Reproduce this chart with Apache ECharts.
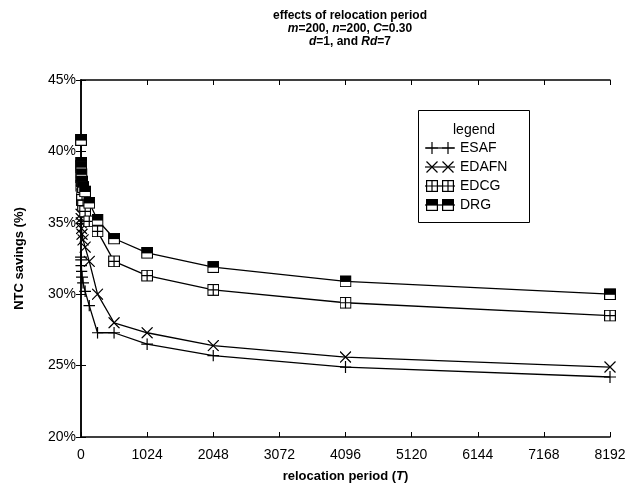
<!DOCTYPE html>
<html>
<head>
<meta charset="utf-8">
<script src="https://cdn.jsdelivr.net/npm/echarts@6/dist/echarts.min.js"></script>
<style>html,body{margin:0;padding:0;background:#fff}#c{width:629px;height:488px}</style>
</head>
<body>
<div id="c"></div>
<script>
const periods = [1, 2, 4, 8, 16, 32, 64, 128, 256, 512, 1024, 2048, 4096, 8192];
const esaf  = [32.6, 32.4, 32.0, 31.6, 31.2, 30.8, 30.2, 29.2, 27.3, 27.3, 26.5, 25.7, 24.9, 24.2];
const edafn = [35.6, 35.3, 35.0, 34.6, 34.2, 33.8, 33.3, 32.3, 30.0, 28.0, 27.3, 26.4, 25.6, 24.9];
const edcg  = [39.0, 38.2, 37.6, 37.0, 36.6, 36.2, 35.8, 35.1, 34.4, 32.3, 31.3, 30.3, 29.4, 28.5];
const drg   = [40.8, 39.2, 38.9, 38.4, 37.9, 37.5, 37.2, 36.4, 35.2, 33.9, 32.9, 31.9, 30.9, 30.0];
const seriesNames = ['ESAF', 'EDAFN', 'EDCG', 'DRG'];
const xTicks = [0, 1024, 2048, 3072, 4096, 5120, 6144, 7168, 8192];
const yTicks = [20, 25, 30, 35, 40, 45];

function svgUri(w, h, body) {
  return 'image://data:image/svg+xml;charset=utf-8,' + encodeURIComponent(
    '<svg xmlns="http://www.w3.org/2000/svg" width="' + w + '" height="' + h + '" viewBox="0 0 ' + w + ' ' + h + '">' + body + '</svg>');
}
function markBody(kind, ox) {
  const s = 'stroke="#000" stroke-width="1.2" fill="none"';
  if (kind === 0) return '<path d="M' + (ox) + ' 6H' + (ox + 12) + 'M' + (ox + 6) + ' 0V12" ' + s + '/>';
  if (kind === 1) return '<path d="M' + (ox + 0.5) + ' 0.5L' + (ox + 11.5) + ' 11.5M' + (ox + 11.5) + ' 0.5L' + (ox + 0.5) + ' 11.5" ' + s + '/>';
  if (kind === 2) return '<rect x="' + (ox + 0.6) + '" y="0.6" width="10.8" height="10.8" fill="#fff" stroke="#000" stroke-width="1.2"/><path d="M' + (ox + 6) + ' 0.6V11.4M' + (ox + 0.6) + ' 6H' + (ox + 11.4) + '" ' + s + '/>';
  return '<rect x="' + (ox + 0.6) + '" y="0.6" width="10.8" height="10.8" fill="#fff" stroke="#000" stroke-width="1.2"/><rect x="' + (ox + 0.6) + '" y="0.6" width="10.8" height="6" fill="#000"/>';
}
const symbols = [0, 1, 2, 3].map(k => svgUri(12, 12, markBody(k, 0)));
const icons = [0, 1, 2, 3].map(k => svgUri(30, 12,
  '<path d="M0 6H30" stroke="#000" stroke-width="1.2"/>' + markBody(k, 1) + markBody(k, 17)));

const dataSets = [esaf, edafn, edcg, drg];
const font = 'Liberation Sans, Arial, sans-serif';

const chart = echarts.init(document.getElementById('c'), null, {renderer: 'canvas'});
const axisCommon = {
  axisLine: {show: true, lineStyle: {color: '#000', width: 1.5}},
  axisTick: {show: true, inside: true, length: 5, lineStyle: {color: '#000', width: 1}},
  splitLine: {show: false}
};
chart.setOption({
  animation: false,
  backgroundColor: '#fff',
  textStyle: {fontFamily: font},
  title: {
    left: 345, top: 4, textAlign: 'center',
    text: '{n|effects of relocation period}\n{i|m}{n|=200, }{i|n}{n|=200, }{i|C}{n|=0.30}\n{i|d}{n|=1, and }{i|Rd}{n|=7}',
    textStyle: {
      fontFamily: font, fontSize: 12, fontWeight: 'bold', color: '#000', lineHeight: 13,
      rich: {
        n: {fontFamily: font, fontSize: 12, fontWeight: 'bold', color: '#000', lineHeight: 13},
        i: {fontFamily: font, fontSize: 12, fontWeight: 'bold', fontStyle: 'italic', color: '#000', lineHeight: 13}
      }
    }
  },
  grid: {left: 81, right: 19, top: 80, bottom: 51, containLabel: false},
  xAxis: [
    Object.assign({
      type: 'value', min: xTicks[0], max: xTicks[xTicks.length - 1], interval: 1024,
      name: 'relocation period ({bi|T})', nameLocation: 'middle', nameGap: 33,
      nameTextStyle: {fontFamily: font, fontSize: 13, fontWeight: 'bold', color: '#000',
        rich: {bi: {fontFamily: font, fontSize: 13, fontWeight: 'bold', fontStyle: 'italic', color: '#000'}}},
      axisLabel: {color: '#000', fontSize: 14, fontFamily: font, margin: 11, formatter: v => String(v)}
    }, axisCommon),
    Object.assign({
      type: 'value', position: 'top', min: xTicks[0], max: xTicks[xTicks.length - 1], interval: 1024,
      axisLabel: {show: false}
    }, axisCommon)
  ],
  yAxis: [
    Object.assign({
      type: 'value', min: yTicks[0], max: yTicks[yTicks.length - 1], interval: 5,
      name: 'NTC savings (%)', nameLocation: 'middle', nameGap: 55,
      nameTextStyle: {fontFamily: font, fontSize: 13, fontWeight: 'bold', color: '#000'},
      axisLabel: {color: '#000', fontSize: 14, fontFamily: font, margin: 5, formatter: '{value}%'}
    }, axisCommon),
    Object.assign({
      type: 'value', position: 'right', min: yTicks[0], max: yTicks[yTicks.length - 1], interval: 5,
      axisLabel: {show: false}
    }, axisCommon)
  ],
  legend: {
    orient: 'vertical', left: 425, top: 141, itemGap: 5, itemWidth: 30, itemHeight: 12,
    padding: 0,
    textStyle: {fontFamily: font, fontSize: 14, color: '#000', padding: [0, 0, 0, 0]},
    data: seriesNames.map((n, i) => ({name: n, icon: icons[i]}))
  },
  graphic: [
    {type: 'rect', left: 418, top: 110, z: 10, shape: {width: 111, height: 112},
      style: {fill: 'rgba(255,255,255,0)', stroke: '#000', lineWidth: 1}},
    {type: 'text', left: 453, top: 123, z: 10,
      style: {text: 'legend', fontFamily: font, fontSize: 14, fill: '#000'}}
  ],
  series: seriesNames.map((n, i) => ({
    name: n, type: 'line',
    data: periods.map((p, j) => [p, dataSets[i][j]]),
    symbol: symbols[i], symbolSize: 12, showAllSymbol: true,
    lineStyle: {color: '#000', width: 1.3},
    itemStyle: {color: '#000'},
    z: 2 + i
  }))
});
</script>
</body>
</html>
